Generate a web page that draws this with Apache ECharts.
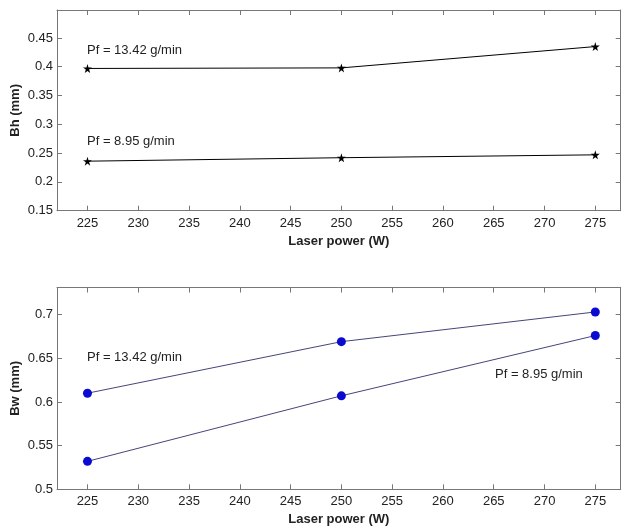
<!DOCTYPE html>
<html>
<head>
<meta charset="utf-8">
<script src="https://cdn.jsdelivr.net/npm/echarts@6/dist/echarts.min.js"></script>
<style>
html,body{margin:0;padding:0;background:#fff;}
#chart{width:624px;height:527px;}
</style>
</head>
<body>
<div id="chart"></div>
<script>
const laserPower = [225, 250, 275];
const bhHigh = [0.397, 0.398, 0.435];   // Pf = 13.42 g/min
const bhLow  = [0.236, 0.242, 0.247];   // Pf = 8.95 g/min
const bwHigh = [0.610, 0.669, 0.703];   // Pf = 13.42 g/min
const bwLow  = [0.532, 0.607, 0.676];   // Pf = 8.95 g/min
const xTicks = [225, 230, 235, 240, 245, 250, 255, 260, 265, 270, 275];
const bhTicks = [0.15, 0.2, 0.25, 0.3, 0.35, 0.4, 0.45];
const bwTicks = [0.5, 0.55, 0.6, 0.65, 0.7];
const labelHigh = 'Pf = 13.42 g/min';
const labelLow = 'Pf = 8.95 g/min';
const xName = 'Laser power (W)';
const bhName = 'Bh (mm)';
const bwName = 'Bw (mm)';

const FONT = 'Liberation Sans, Arial, sans-serif';
const axisColor = '#777';
const textColor = '#222';
const starPath = 'path://M50,0 L61,35 L98,35 L68,57 L79,91 L50,70 L21,91 L32,57 L2,35 L39,35 Z';

function pair(xs, ys){ return xs.map((x,i)=>[x, ys[i]]); }

function xAxisFor(gridIndex, show){
  return {
    type:'value', gridIndex, min:222, max:277.5,
    position: show ? 'bottom' : 'top',
    name: show ? xName : '', nameLocation:'middle', nameGap:24, nameMoveOverlap:false,
    nameTextStyle:{fontFamily:FONT, fontSize:13, fontWeight:'bold', color:textColor},
    axisLine:{show:true, onZero:false, lineStyle:{color:axisColor, width:1}},
    axisTick:{show:true, inside:true, length:5, customValues:xTicks, lineStyle:{color:axisColor}},
    axisLabel:{show:show, customValues:xTicks, fontFamily:FONT, fontSize:13, color:textColor, margin:6},
    splitLine:{show:false}
  };
}
function yAxisFor(gridIndex, show, min, max, ticks, name){
  return {
    type:'value', gridIndex, min, max,
    position: show ? 'left' : 'right',
    name: show ? name : '', nameLocation:'middle', nameGap:35, nameRotate:90, nameMoveOverlap:false,
    nameTextStyle:{fontFamily:FONT, fontSize:13, fontWeight:'bold', color:textColor},
    axisLine:{show:true, onZero:false, lineStyle:{color:axisColor, width:1}},
    axisTick:{show:true, inside:true, length:5, customValues:ticks, lineStyle:{color:axisColor}},
    axisLabel:{show:show, customValues:ticks, fontFamily:FONT, fontSize:13, color:textColor, margin:4},
    splitLine:{show:false}
  };
}

const chart = echarts.init(document.getElementById('chart'), null, {renderer:'canvas'});
chart.setOption({
  animation:false,
  backgroundColor:'#fff',
  grid:[
    {left:57, top:10, width:563.7, height:200.7, containLabel:false, outerBoundsMode:'none'},
    {left:57, top:287.5, width:563.7, height:201.8, containLabel:false, outerBoundsMode:'none'}
  ],
  xAxis:[ xAxisFor(0,true), xAxisFor(0,false), xAxisFor(1,true), xAxisFor(1,false) ],
  yAxis:[
    yAxisFor(0,true,0.15,0.4985,bhTicks,bhName),
    yAxisFor(0,false,0.15,0.4985,bhTicks,bhName),
    yAxisFor(1,true,0.5,0.731,bwTicks,bwName),
    yAxisFor(1,false,0.5,0.731,bwTicks,bwName)
  ],
  series:[
    {type:'line', xAxisIndex:0, yAxisIndex:0, data:pair(laserPower,bhHigh), symbol:starPath, symbolSize:9,
      lineStyle:{color:'#000', width:1}, itemStyle:{color:'#000'}},
    {type:'line', xAxisIndex:0, yAxisIndex:0, data:pair(laserPower,bhLow), symbol:starPath, symbolSize:9,
      lineStyle:{color:'#000', width:1}, itemStyle:{color:'#000'}},
    {type:'line', xAxisIndex:2, yAxisIndex:2, data:pair(laserPower,bwHigh), symbol:'circle', symbolSize:9,
      lineStyle:{color:'#45457a', width:1}, itemStyle:{color:'#0a0ad0'}},
    {type:'line', xAxisIndex:2, yAxisIndex:2, data:pair(laserPower,bwLow), symbol:'circle', symbolSize:9,
      lineStyle:{color:'#45457a', width:1}, itemStyle:{color:'#0a0ad0'}}
  ],
  graphic:[
    {type:'text', left:87, top:44, style:{text:labelHigh, font:'13px '+FONT, fill:textColor}},
    {type:'text', left:87, top:135, style:{text:labelLow, font:'13px '+FONT, fill:textColor}},
    {type:'text', left:87, top:351, style:{text:labelHigh, font:'13px '+FONT, fill:textColor}},
    {type:'text', left:495, top:368, style:{text:labelLow, font:'13px '+FONT, fill:textColor}}
  ]
});
</script>
</body>
</html>
